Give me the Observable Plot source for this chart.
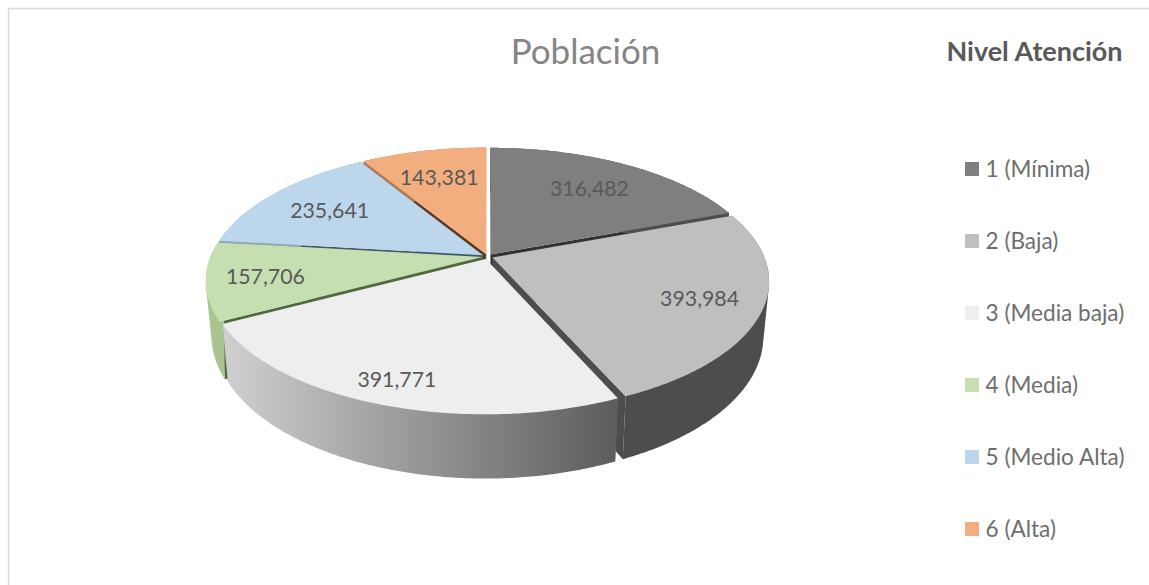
<!DOCTYPE html>
<html><head><meta charset="utf-8">
<script src="https://cdn.jsdelivr.net/npm/d3@7"></script>
<script src="https://cdn.jsdelivr.net/npm/@observablehq/plot@0.6"></script>
<style>html,body{margin:0;padding:0;background:#fff}svg{display:block}</style>
</head><body><div id="chart"></div>
<script>
const categories = ["1 (Mínima)","2 (Baja)","3 (Media baja)","4 (Media)","5 (Medio Alta)","6 (Alta)"];
const values = [316482,393984,391771,157706,235641,143381];
const valueLabels = ["316,482","393,984","391,771","157,706","235,641","143,381"];
const topColors = ["#7f7f7f","#bfbfbf","#eeeeee","#c5dfb0","#bcd6ec","#f3ae7f"];
const rimColors = ["#4d4d4d","#4d4d4d","url(#rim3)","#a9c490","#8fa8c0","#b07a55"];
const wallColors = ["#333333","#4d4d4d","#777777","#51693f","#40586f","#5c3a20"];
const labelRadius = [.71,.78,.85,.79,.72,.72];
const drawOrder = [5,0,4,1,3,2];

const W=1149,H=585, cx=487, k=.18, explode=.02;
const project = {
  top:(u,v)=>{const w=1+k*v; return {x:cx+271.5*u/w, y:256-126.5*v/w};},
  low:(u,v)=>{const w=1+k*v; return {x:cx+266*u/w, y:309-135.5*v/w};}
};
const arcs = d3.pie().sort(null)(values);
const slices = arcs.map((a,i)=>{
  const mid=(a.startAngle+a.endAngle)/2;
  const ox=explode*Math.sin(mid), oy=explode*Math.cos(mid);
  const pt=(ring,t,r=1)=>project[ring](ox+r*Math.sin(t),oy+r*Math.cos(t));
  const n=Math.ceil((a.endAngle-a.startAngle)/0.01);
  const ts=d3.range(n+1).map(j=>a.startAngle+(a.endAngle-a.startAngle)*j/n);
  return {i,mid,pt,ts,a};
});
function pieces(s){
  const {pt,ts,a,i}=s, A=a.startAngle, B=a.endAngle, out=[];
  const wall=t=>[pt("top",t,0),pt("low",t,0),pt("low",t),pt("top",t)];
  out.push({pts:wall(A),fill:wallColors[i]});
  out.push({pts:wall(B),fill:wallColors[i]});
  const rimPts=[...ts.map(t=>pt("top",t)),...ts.map(t=>pt("low",t))];
  const hull=d3.polygonHull(rimPts.map(p=>[p.x,p.y])).map(([x,y])=>({x,y}));
  out.push({pts:hull,fill:rimColors[i]});
  out.push({pts:[pt("top",A,0),...ts.map(t=>pt("top",t))],fill:topColors[i]});
  return out;
}
const sliceMarks = drawOrder.flatMap(i=>pieces(slices[i]).map(p=>
  Plot.line(p.pts,{x:"x",y:"y",fill:p.fill,stroke:"none",curve:"linear-closed"})));

const labelRows = slices.map((s,i)=>({...s.pt("top",s.mid,labelRadius[i]),text:valueLabels[i]}));
const legendRows = categories.map((c,i)=>({c,i,y:169+72*i}));
const font="Lato, Carlito, sans-serif";

const chart = Plot.plot({
  width:W,height:H,margin:0,
  x:{domain:[0,W],range:[0,W],axis:null},
  y:{domain:[0,H],range:[0,H],axis:null},
  style:{background:"#fff",fontFamily:font},
  marks:[
    Plot.ruleY([8],{x1:8,x2:W,stroke:"#d9d9d9",strokeWidth:1.5}),
    Plot.ruleX([8],{y1:8,y2:H,stroke:"#d9d9d9",strokeWidth:1.5}),
    ...sliceMarks,
    Plot.text(labelRows,{x:"x",y:"y",text:"text",fill:"#595959",fontSize:21.3,fontFamily:font,dy:1.5}),
    Plot.text(["Población"],{x:()=>585,y:()=>52,fill:"#858585",fontSize:35,fontFamily:font,fontWeight:400,letterSpacing:1}),
    Plot.text(["Nivel Atención"],{x:()=>1034,y:()=>52,fill:"#595959",fontSize:27,fontWeight:700,fontFamily:font}),
    Plot.rect(legendRows,{x1:()=>965,x2:()=>979,y1:d=>d.y-7,y2:d=>d.y+7,fill:d=>topColors[d.i]}),
    Plot.text(legendRows,{x:()=>985,y:"y",text:"c",textAnchor:"start",fill:"#6e6e6e",fontSize:22.6,fontFamily:font})
  ]
});
const defs=d3.select(chart).insert("defs",":first-child");
const g=defs.append("linearGradient").attr("id","rim3").attr("x1","0").attr("x2","1").attr("y1","0").attr("y2","0");
g.append("stop").attr("offset","0").attr("stop-color","#d0d0d0");
g.append("stop").attr("offset","1").attr("stop-color","#5c5c5c");
document.getElementById("chart").append(chart);
</script></body></html>
